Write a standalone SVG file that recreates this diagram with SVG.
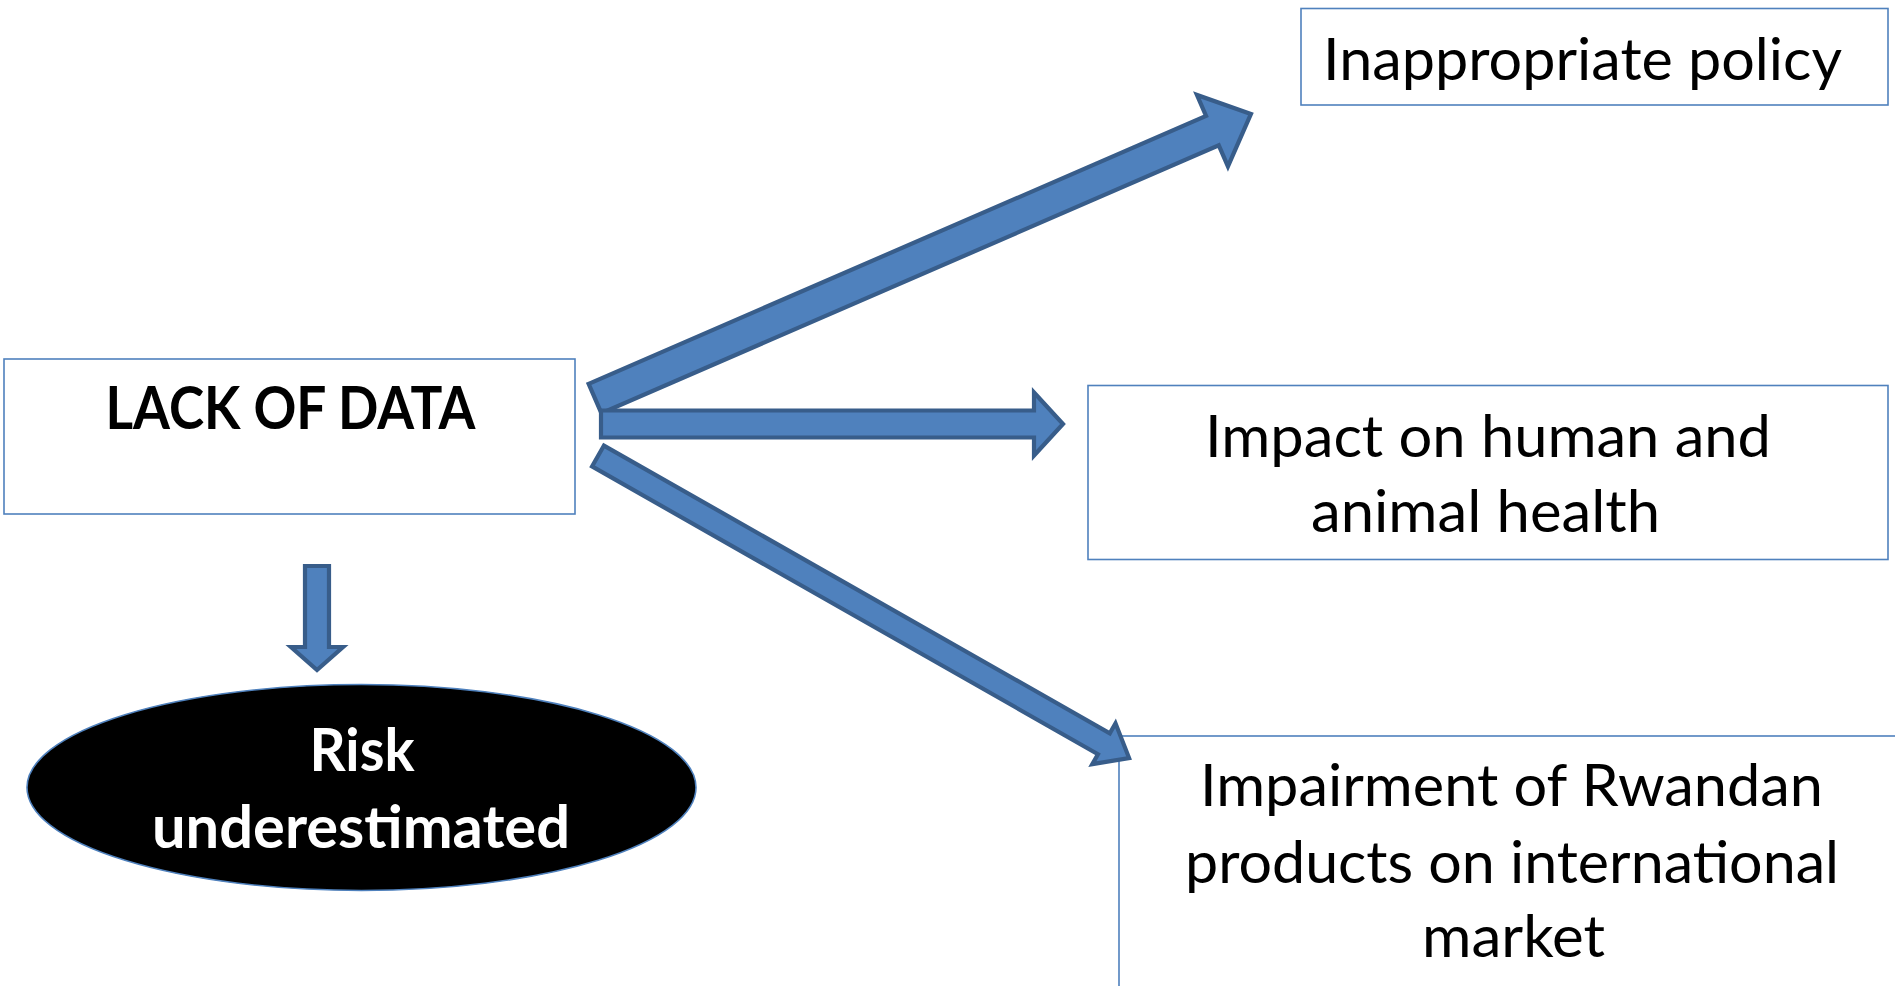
<svg xmlns="http://www.w3.org/2000/svg" width="1895" height="986" viewBox="0 0 1895 986">
<style>
.box{fill:#ffffff;stroke:#4F81BD;stroke-width:1.6}
.arrow{fill:#4F81BD;stroke:#385D8A;stroke-width:4.2;stroke-linejoin:miter}
.t{font-family:Lato,"Open Sans","Liberation Sans",sans-serif;font-size:59px;fill:#000000;text-anchor:middle}
.b{font-weight:bold}
.w{fill:#ffffff}
</style>
<rect width="1895" height="986" fill="#ffffff"/>
<g id="node-lack">
<rect class="box" x="4" y="359" width="571" height="155"/>
<text class="t b" x="290.5" y="429" textLength="370" lengthAdjust="spacingAndGlyphs">LACK OF DATA</text>
</g>
<g id="node-policy">
<rect class="box" x="1301" y="8.5" width="587" height="96.5"/>
<text class="t" x="1582.5" y="80" textLength="519" lengthAdjust="spacingAndGlyphs">Inappropriate policy</text>
</g>
<g id="node-health">
<rect class="box" x="1088" y="385.5" width="800" height="174"/>
<text class="t" x="1488" y="457" textLength="566" lengthAdjust="spacingAndGlyphs">Impact on human and</text>
<text class="t" x="1485.5" y="532" textLength="349" lengthAdjust="spacingAndGlyphs">animal health</text>
</g>
<g id="node-market">
<rect class="box" x="1119" y="736" width="800" height="300"/>
<text class="t" x="1511.5" y="806" textLength="623" lengthAdjust="spacingAndGlyphs">Impairment of Rwandan</text>
<text class="t" x="1512" y="883" textLength="654" lengthAdjust="spacingAndGlyphs">products on international</text>
<text class="t" x="1513.5" y="957" textLength="183" lengthAdjust="spacingAndGlyphs">market</text>
</g>
<g id="node-risk">
<ellipse cx="361.5" cy="787.5" rx="334.5" ry="103" fill="#000000" stroke="#4F81BD" stroke-width="1.6"/>
<text class="t b w" x="362" y="771" textLength="105" lengthAdjust="spacingAndGlyphs">Risk</text>
<text class="t b w" x="361" y="848" textLength="418" lengthAdjust="spacingAndGlyphs">underestimated</text>
</g>
<g id="connectors">
<polygon class="arrow" transform="translate(595,398.5) rotate(-23.45)" points="0,-16 673,-16 673,-39 715,0 673,39 673,16 0,16"/>
<polygon class="arrow" points="601,410.5 1034,410.5 1034,392.5 1063,424 1034,455.5 1034,437.5 601,437.5"/>
<polygon class="arrow" transform="translate(598,456) rotate(29.63)" points="0,-12 582,-12 582,-23.5 611,0 582,23.5 582,12 0,12"/>
<polygon class="arrow" points="305,566 329,566 329,647 343,647 317,670 291,647 305,647"/>
</g>
</svg>
